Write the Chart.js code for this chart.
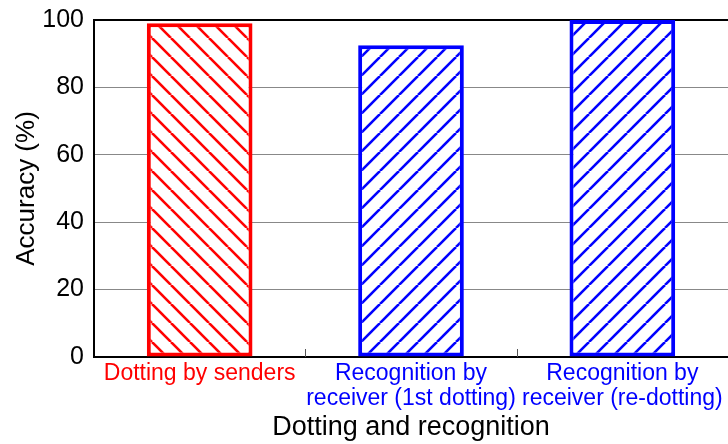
<!DOCTYPE html>
<html>
<head>
<meta charset="utf-8">
<script src="https://cdn.jsdelivr.net/npm/chart.js@4.4.0/dist/chart.umd.min.js"></script>
<style>
  body { margin: 0; background: #fff; }
  canvas { display: block; }
</style>
</head>
<body>
<canvas id="accuracyChart" width="728" height="444" style="width:728px;height:444px"></canvas>
<script>
const categories = [
    ['Dotting by senders'],
    ['Recognition by', 'receiver (1st dotting)'],
    ['Recognition by', 'receiver (re-dotting)']
];
const accuracy = [99, 92.5, 100];
const barColors = ['#ff0000', '#0000ff', '#0000ff'];
const yTicks = [0, 20, 40, 60, 80, 100];

// rayado diagonal: '\' para rojo, '/' para azul
function hatch(color, back) {
    const n = 19;
    const c = document.createElement('canvas');
    c.width = n;
    c.height = n;
    const g = c.getContext('2d');
    g.fillStyle = '#fff';
    g.fillRect(0, 0, n, n);
    g.strokeStyle = color;
    g.lineWidth = 2.6;
    for (const k of [-n, 0, n]) {
        g.beginPath();
        if (back) {
            g.moveTo(k, 0);
            g.lineTo(k + n, n);
        } else {
            g.moveTo(k, n);
            g.lineTo(k + n, 0);
        }
        g.stroke();
    }
    return g.createPattern(c, 'repeat');
}

const fills = [hatch('#ff0000', true), hatch('#0000ff', false), hatch('#0000ff', false)];

// marcas cortas hacia dentro entre categorias
const innerTicks = {
    id: 'innerTicks',
    afterDatasetsDraw(chart) {
        const ctx = chart.ctx;
        const x = chart.scales.x;
        const bottom = chart.chartArea.bottom;
        ctx.save();
        ctx.strokeStyle = '#555';
        ctx.lineWidth = 1;
        for (let i = 1; i < categories.length; i++) {
            const px = Math.round((x.getPixelForValue(i - 1) + x.getPixelForValue(i)) / 2) + 0.5;
            ctx.beginPath();
            ctx.moveTo(px, bottom);
            ctx.lineTo(px, bottom - 8);
            ctx.stroke();
        }
        ctx.restore();
    }
};

new Chart(document.getElementById('accuracyChart'), {
    type: 'bar',
    data: {
        labels: categories,
        datasets: [{
            data: accuracy,
            backgroundColor: fills,
            borderColor: barColors,
            borderWidth: 4,
            borderSkipped: false,
            barPercentage: 0.5,
            categoryPercentage: 1.0
        }]
    },
    options: {
        responsive: false,
        animation: false,
        layout: { padding: { top: 20, right: 0, left: 0, bottom: 0 } },
        plugins: {
            legend: { display: false },
            tooltip: { enabled: false }
        },
        scales: {
            x: {
                offset: true,
                afterFit: s => { s.height = 87; s.paddingLeft = 0; s.paddingRight = 0; },
                grid: { display: false },
                border: { display: true, color: '#000', width: 2 },
                ticks: {
                    color: c => barColors[c.index],
                    font: { family: 'Liberation Sans', size: 23, lineHeight: 1.05 },
                    padding: -3,
                    maxRotation: 0,
                    autoSkip: false
                },
                title: {
                    display: true,
                    text: 'Dotting and recognition',
                    color: '#000',
                    font: { family: 'Liberation Sans', size: 27 },
                    padding: { top: 0, bottom: 0 }
                }
            },
            y: {
                min: 0,
                max: 100,
                afterFit: s => { s.width = 94; s.paddingTop = 0; s.paddingBottom = 0; },
                afterBuildTicks: s => { s.ticks = yTicks.map(v => ({ value: v })); },
                grid: {
                    drawTicks: false,
                    color: c => c.tick.value === 100 ? '#000' : '#888',
                    lineWidth: c => c.tick.value === 100 ? 2 : 1
                },
                border: { display: true, color: '#000', width: 2 },
                ticks: {
                    color: '#000',
                    font: { family: 'Liberation Sans', size: 25 },
                    padding: 10
                },
                title: {
                    display: true,
                    text: 'Accuracy (%)',
                    color: '#000',
                    font: { family: 'Liberation Sans', size: 26 },
                    padding: { top: 11, bottom: 0 }
                }
            }
        }
    },
    plugins: [innerTicks]
});
</script>
</body>
</html>
